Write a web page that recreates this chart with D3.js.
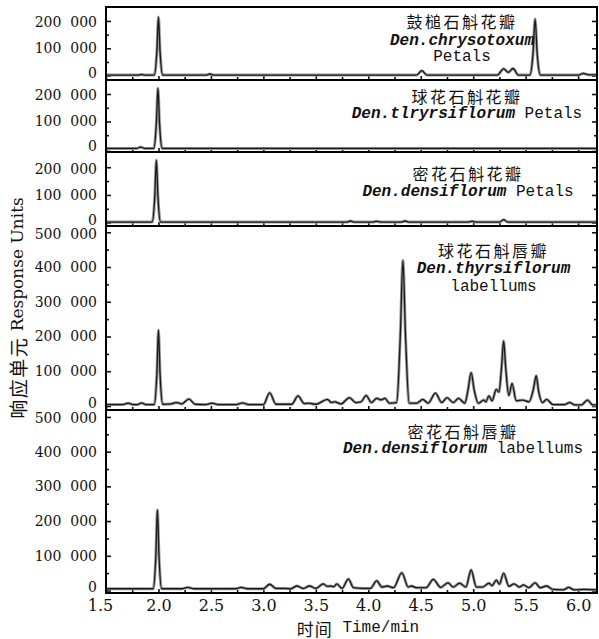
<!DOCTYPE html>
<html>
<head>
<meta charset="utf-8">
<script src="https://cdn.jsdelivr.net/npm/d3@7"></script>
<style>
  body { margin: 0; background: #fff; }
  svg { display: block; }
  .tick text { fill: #111; }
</style>
</head>
<body>
<div id="chart"></div>
<script>

// retention time (min), response units
let chrysotoxumPetals = [
  [1.5,2000],[1.8,2000],[1.84,4000],[1.88,2000],[1.96,2000],[1.985,90000],[2.0,214000],[2.015,90000],[2.04,2000],
  [2.45,2000],[2.49,6000],[2.53,2000],[4.46,2000],[4.51,18000],[4.56,2000],[5.23,2000],[5.29,25000],[5.335,12000],
  [5.38,26000],[5.43,2000],[5.54,2000],[5.57,80000],[5.59,207000],[5.61,80000],[5.64,2000],[6.0,2000],[6.05,8000],
  [6.1,3000],[6.18,3000]
];

let thyrsiflorumPetals = [
  [1.5,2000],[1.79,2000],[1.83,7000],[1.87,2000],[1.955,2000],[1.98,95000],[1.995,221000],[2.01,95000],[2.035,2000],
  [6.18,2000]
];

let densiflorumPetals = [
  [1.5,2000],[1.94,2000],[1.965,95000],[1.98,226000],[1.995,95000],[2.02,2000],[3.79,2000],[3.83,6000],[3.87,2000],
  [4.04,2000],[4.08,5000],[4.12,2000],[4.31,2000],[4.35,6000],[4.39,2000],[4.95,2000],[4.99,5000],[5.03,2000],
  [5.25,2000],[5.29,11000],[5.33,2000],[6.18,2000]
];

let thyrsiflorumLabellums = [
  [1.5,4000],[1.66,4000],[1.71,8000],[1.76,4000],[1.80,4000],[1.84,9000],[1.88,4000],[1.96,4000],[1.985,95000],
  [2.0,219000],[2.015,95000],[2.04,5000],[2.12,6000],[2.17,10000],[2.22,6000],[2.29,20000],[2.35,5000],[2.45,4000],
  [2.51,8000],[2.57,4000],[2.74,4000],[2.80,9000],[2.86,4000],[3.0,4000],[3.06,38000],[3.12,5000],[3.27,5000],
  [3.33,29000],[3.39,7000],[3.43,8000],[3.5,5000],[3.61,19000],[3.65,10000],[3.68,12000],[3.74,6000],[3.82,24000],
  [3.88,10000],[3.93,12000],[3.98,30000],[4.03,10000],[4.08,22000],[4.12,18000],[4.16,22000],[4.2,8000],[4.27,10000],
  [4.305,200000],[4.33,419000],[4.355,200000],[4.39,8000],[4.46,8000],[4.52,19000],[4.57,8000],[4.64,37000],
  [4.70,10000],[4.75,24000],[4.81,10000],[4.86,22000],[4.92,8000],[4.95,45000],[4.98,96000],[5.01,45000],[5.05,8000],
  [5.10,17000],[5.12,12000],[5.15,29000],[5.18,15000],[5.22,48000],[5.245,40000],[5.27,110000],[5.29,187000],
  [5.31,110000],[5.34,30000],[5.37,65000],[5.41,15000],[5.47,17000],[5.53,12000],[5.575,50000],[5.60,87000],
  [5.625,40000],[5.66,10000],[5.70,19000],[5.76,4000],[5.87,4000],[5.92,10000],[5.97,3000],[6.03,3000],[6.09,17000],
  [6.14,3000],[6.18,3000]
];

let densiflorumLabellums = [
  [1.5,5000],[1.95,5000],[1.975,100000],[1.99,232000],[2.005,100000],[2.03,5000],[2.22,5000],[2.28,9000],[2.34,5000],
  [2.73,5000],[2.79,9000],[2.85,5000],[3.0,5000],[3.06,18000],[3.12,6000],[3.2,6000],[3.26,5000],[3.32,13000],
  [3.38,6000],[3.44,13000],[3.50,6000],[3.57,19000],[3.61,12000],[3.64,13000],[3.67,11000],[3.70,19000],[3.75,6000],
  [3.81,33000],[3.86,8000],[3.95,6000],[4.02,6000],[4.08,28000],[4.13,10000],[4.18,13000],[4.24,8000],[4.32,51000],
  [4.38,10000],[4.41,13000],[4.46,8000],[4.55,8000],[4.62,32000],[4.69,9000],[4.76,22000],[4.81,10000],[4.87,21000],
  [4.93,10000],[4.98,59000],[5.03,10000],[5.09,10000],[5.15,21000],[5.18,14000],[5.22,30000],[5.25,18000],[5.29,50000],
  [5.34,12000],[5.39,19000],[5.44,10000],[5.48,16000],[5.53,8000],[5.59,22000],[5.64,8000],[5.70,13000],[5.76,3000],
  [5.86,2000],[5.91,9000],[5.96,2000],[6.05,3000],[6.18,2000]
];

let namesZh = ["鼓槌石斛花瓣", "球花石斛花瓣", "密花石斛花瓣", "球花石斛唇瓣", "密花石斛唇瓣"];
let namesLatin = ["Den.chrysotoxum", "Den.tlryrsiflorum", "Den.densiflorum", "Den.thyrsiflorum", "Den.densiflorum"];
let organs = ["Petals", "Petals", "Petals", "labellums", "labellums"];

let xTicks = [1.5, 2.0, 2.5, 3.0, 3.5, 4.0, 4.5, 5.0, 5.5, 6.0];
let xMinorTicks = [1.75, 2.25, 2.75, 3.25, 3.75, 4.25, 4.75, 5.25, 5.75];
let smallYTicks = [0, 100000, 200000];
let smallYMinor = [50000, 150000];
let bigYTicks = [0, 100000, 200000, 300000, 400000, 500000];
let bigYMinor = [50000, 150000, 250000, 350000, 450000];

let series = [chrysotoxumPetals, thyrsiflorumPetals, densiflorumPetals, thyrsiflorumLabellums, densiflorumLabellums];

// layout of each panel (pixels) and label placement
let panels = [
  { top: 7,   bottom: 80,  domain: [-16000, 251000], ticks: smallYTicks, minor: smallYMinor, lx: 462, ly: [21, 40.7, 56.7], inline: false },
  { top: 80,  bottom: 152, domain: [-11000, 251000], ticks: smallYTicks, minor: smallYMinor, lx: 467, ly: [96, 114.3], inline: true },
  { top: 152, bottom: 226, domain: [-12000, 255000], ticks: smallYTicks, minor: smallYMinor, lx: 468, ly: [172.5, 191.7], inline: true },
  { top: 226, bottom: 410, domain: [-11500, 518000], ticks: bigYTicks, minor: bigYMinor, lx: 493.5, ly: [250, 269.3, 286.7], inline: false },
  { top: 410, bottom: 593, domain: [-7200, 520000], ticks: bigYTicks, minor: bigYMinor, lx: 463, ly: [431, 449.3], inline: true }
];

let svgWidth = 599;
let svgHeight = 639;
let left = 106, right = 597;

let svg = d3.select("#chart")
    .append("svg")
    .attr("width", svgWidth)
    .attr("height", svgHeight);

let x = d3.scaleLinear().domain([1.5, 6.18]).range([left, right]);

let fmt = d3.formatLocale({ decimal: ".", thousands: "\u00a0\u00a0", grouping: [3], currency: ["", ""] }).format(",");

let serif = "'DejaVu Serif', 'Liberation Serif', serif";
let mono = "'Liberation Mono', 'DejaVu Sans Mono', monospace";
let cjk = "'Noto Sans CJK SC', sans-serif";

panels.forEach(function(p, i) {
    let y = d3.scaleLinear().domain(p.domain).range([p.bottom, p.top]);
    let g = svg.append("g");
    let topTick = d3.max(p.ticks);

    // left axis with labels
    let yAxis = d3.axisLeft(y).tickValues(p.ticks).tickSize(-5).tickPadding(9).tickFormat(fmt);
    g.append("g").attr("transform", `translate(${left},0)`).call(yAxis)
        .call(s => s.select(".domain").remove())
        .selectAll("text")
        .attr("font-family", serif).attr("font-size", "14px")
        .attr("y", d => d === 0 ? -3 : (d === topTick ? 1.5 : 0));
    g.append("g").attr("transform", `translate(${left},0)`)
        .call(d3.axisLeft(y).tickValues(p.minor).tickSize(-3).tickFormat(""))
        .call(s => s.select(".domain").remove());

    // right axis ticks
    g.append("g").attr("transform", `translate(${right},0)`)
        .call(d3.axisRight(y).tickValues(p.ticks).tickSize(-5).tickFormat(""))
        .call(s => s.select(".domain").remove());
    g.append("g").attr("transform", `translate(${right},0)`)
        .call(d3.axisRight(y).tickValues(p.minor).tickSize(-3).tickFormat(""))
        .call(s => s.select(".domain").remove());

    // bottom ticks
    let bottomAxis = d3.axisBottom(x).tickValues(xTicks).tickSize(-4).tickPadding(7).tickFormat(d3.format(".1f"));
    let bx = g.append("g").attr("transform", `translate(0,${p.bottom})`).call(bottomAxis)
        .call(s => s.select(".domain").remove());
    if (i < panels.length - 1) {
        bx.selectAll("text").remove();
    } else {
        bx.selectAll("text")
            .attr("font-family", serif).attr("font-size", "16px")
            .attr("dx", d => d === 1.5 ? -6 : 0);
    }
    g.append("g").attr("transform", `translate(0,${p.bottom})`)
        .call(d3.axisBottom(x).tickValues(xMinorTicks).tickSize(-3).tickFormat(""))
        .call(s => s.select(".domain").remove());

    g.selectAll(".tick line").attr("stroke", "#111").attr("stroke-width", 1.6);

    // trace
    let line = d3.line()
        .x(d => x(d[0]))
        .y(d => y(d[1]))
        .curve(d3.curveMonotoneX);

    g.append("path")
        .datum(series[i])
        .attr("d", line)
        .attr("fill", "none")
        .attr("stroke", "#9a9a9a")
        .attr("stroke-width", 3);
    g.append("path")
        .datum(series[i])
        .attr("d", line)
        .attr("fill", "none")
        .attr("stroke", "#1a1a1a")
        .attr("stroke-width", 1.3);

    // frame
    g.append("rect")
        .attr("x", left).attr("y", p.top)
        .attr("width", right - left).attr("height", p.bottom - p.top)
        .attr("fill", "none").attr("stroke", "#000").attr("stroke-width", 2);

    // sample label
    g.append("text")
        .attr("x", p.lx).attr("y", p.ly[0])
        .attr("text-anchor", "middle").attr("dominant-baseline", "central")
        .attr("font-family", cjk).attr("font-size", "16px").attr("letter-spacing", "2.5px")
        .attr("fill", "#111")
        .text(namesZh[i]);

    let t2 = g.append("text")
        .attr("x", p.lx).attr("y", p.ly[1])
        .attr("text-anchor", "middle").attr("dominant-baseline", "central")
        .attr("font-family", mono).attr("font-size", "16px").attr("fill", "#111");
    t2.append("tspan").attr("font-style", "italic").attr("font-weight", "bold").text(namesLatin[i]);
    if (p.inline) {
        t2.append("tspan").text("\u00a0" + organs[i]);
    } else {
        g.append("text")
            .attr("x", p.lx).attr("y", p.ly[2])
            .attr("text-anchor", "middle").attr("dominant-baseline", "central")
            .attr("font-family", mono).attr("font-size", "16px").attr("fill", "#111")
            .text(organs[i]);
    }
});

// axis titles
let xTitle = svg.append("text")
    .attr("x", 358).attr("y", 628)
    .attr("text-anchor", "middle").attr("dominant-baseline", "central")
    .attr("fill", "#111");
xTitle.append("tspan").attr("font-family", cjk).attr("font-size", "17px").attr("letter-spacing", "1px").text("时间");
xTitle.append("tspan").attr("font-family", mono).attr("font-size", "16px").text("\u00a0Time/min");

let yTitle = svg.append("text")
    .attr("transform", "translate(17,308) rotate(-90)")
    .attr("text-anchor", "middle").attr("dominant-baseline", "central")
    .attr("fill", "#111");
yTitle.append("tspan").attr("font-family", cjk).attr("font-size", "19px").attr("letter-spacing", "1.5px").text("响应单元");
yTitle.append("tspan").attr("font-family", serif).attr("font-size", "17px").text("\u00a0Response Units");

</script>
</body>
</html>
